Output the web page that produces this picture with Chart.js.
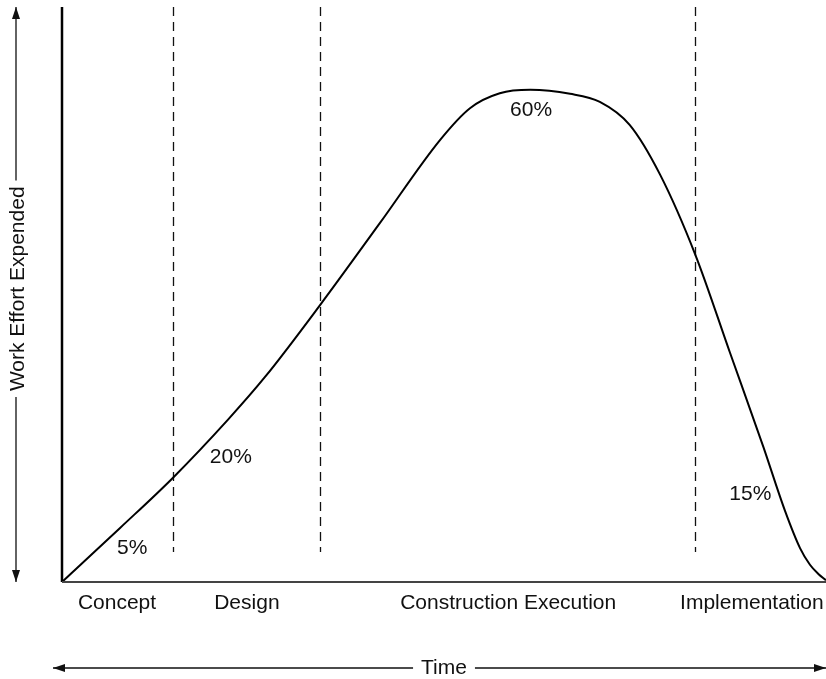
<!DOCTYPE html>
<html>
<head>
<meta charset="utf-8">
<script src="https://cdn.jsdelivr.net/npm/chart.js@4"></script>
<style>
  html, body { margin: 0; padding: 0; background: #fff; }
  canvas { display: block; }
</style>
</head>
<body>
<canvas id="effortChart" width="826" height="679"></canvas>
<script>
// Work effort curve (x = % of time, y = % of plot height)
const timePoints = [0, 7.6, 14.5, 21.7, 26.6, 33.8, 41.6, 49.5, 53.4, 57.3, 61.3, 66.5, 70.4, 74.3, 78.3, 82.9, 87.4, 91.8, 94.6, 96.6, 97.9, 99.0, 100];
const effortValues = [0, 9.4, 18.1, 28.2, 35.7, 48.2, 62.4, 76.9, 82.4, 85.0, 85.6, 84.9, 83.5, 79.5, 70.8, 56.9, 40.0, 23.5, 12.5, 5.9, 3.0, 1.4, 0.3];

// Phase boundaries (dashed lines) and phase names
const phaseBoundaries = [14.5, 33.8, 82.9];
const boundaryRange = [5.2, 100];
const phaseNames = ['Concept', 'Design', 'Construction Execution', 'Implementation'];
const phaseNameX = [7.2, 24.2, 58.4, 90.3];

// Share of effort per phase
const shareLabels = ['5%', '20%', '60%', '15%'];
const shareX = [9.2, 22.1, 61.4, 90.1];
const shareY = [5.9, 21.7, 82.1, 15.3];

const yTitle = 'Work Effort Expended';
const xTitle = 'Time';

const FONT = '21px "Liberation Sans", Arial, Helvetica, sans-serif';

function arrowHead(ctx, x, y, dir) {
    // dir: 'up' | 'down' | 'left' | 'right'
    const len = 12, half = 4;
    ctx.beginPath();
    if (dir === 'up') { ctx.moveTo(x, y); ctx.lineTo(x - half, y + len); ctx.lineTo(x + half, y + len); }
    if (dir === 'down') { ctx.moveTo(x, y); ctx.lineTo(x - half, y - len); ctx.lineTo(x + half, y - len); }
    if (dir === 'left') { ctx.moveTo(x, y); ctx.lineTo(x + len, y - half); ctx.lineTo(x + len, y + half); }
    if (dir === 'right') { ctx.moveTo(x, y); ctx.lineTo(x - len, y - half); ctx.lineTo(x - len, y + half); }
    ctx.closePath();
    ctx.fill();
}

const decorations = {
    id: 'decorations',
    beforeDatasetsDraw(chart) {
        const ctx = chart.ctx;
        const xs = chart.scales.x, ys = chart.scales.y;
        ctx.save();
        // dashed phase boundaries
        ctx.strokeStyle = '#111';
        ctx.lineWidth = 1.3;
        ctx.setLineDash([9, 6]);
        phaseBoundaries.forEach(v => {
            const px = Math.round(xs.getPixelForValue(v)) + 0.5;
            ctx.beginPath();
            ctx.moveTo(px, ys.getPixelForValue(boundaryRange[1]));
            ctx.lineTo(px, ys.getPixelForValue(boundaryRange[0]));
            ctx.stroke();
        });
        ctx.restore();
    },
    afterDraw(chart) {
        const ctx = chart.ctx;
        const area = chart.chartArea;
        const xs = chart.scales.x, ys = chart.scales.y;
        ctx.save();

        // axes
        ctx.setLineDash([]);
        ctx.strokeStyle = '#000';
        ctx.lineWidth = 2.5;
        ctx.beginPath();
        ctx.moveTo(area.left, area.top);
        ctx.lineTo(area.left, area.bottom);
        ctx.stroke();
        ctx.strokeStyle = '#444';
        ctx.lineWidth = 2;
        ctx.beginPath();
        ctx.moveTo(area.left, area.bottom);
        ctx.lineTo(area.right, area.bottom);
        ctx.stroke();

        ctx.font = FONT;
        ctx.fillStyle = '#111';
        ctx.textAlign = 'center';
        ctx.textBaseline = 'middle';

        // phase names under the axis
        phaseNames.forEach((name, i) => {
            ctx.fillText(name, xs.getPixelForValue(phaseNameX[i]), area.bottom + 21);
        });

        // percentage labels
        shareLabels.forEach((lbl, i) => {
            ctx.fillText(lbl, xs.getPixelForValue(shareX[i]), ys.getPixelForValue(shareY[i]));
        });

        // x title with double arrow
        const timeY = area.bottom + 86;
        const timeX = (area.left + area.right) / 2;
        const tw = ctx.measureText(xTitle).width;
        ctx.fillText(xTitle, timeX, timeY);
        ctx.strokeStyle = '#111';
        ctx.lineWidth = 1.3;
        ctx.beginPath();
        ctx.moveTo(area.left - 9, timeY);
        ctx.lineTo(timeX - tw / 2 - 8, timeY);
        ctx.moveTo(timeX + tw / 2 + 8, timeY);
        ctx.lineTo(area.right, timeY);
        ctx.stroke();
        arrowHead(ctx, area.left - 9, timeY, 'left');
        arrowHead(ctx, area.right, timeY, 'right');

        // y title with double arrow
        const titleX = area.left - 46;
        const titleY = ys.getPixelForValue(51);
        const yw = ctx.measureText(yTitle).width;
        ctx.save();
        ctx.translate(titleX + 2, titleY);
        ctx.rotate(-Math.PI / 2);
        ctx.fillText(yTitle, 0, 0);
        ctx.restore();
        ctx.beginPath();
        ctx.moveTo(titleX, area.top);
        ctx.lineTo(titleX, titleY - yw / 2 - 6);
        ctx.moveTo(titleX, titleY + yw / 2 + 6);
        ctx.lineTo(titleX, area.bottom);
        ctx.stroke();
        arrowHead(ctx, titleX, area.top, 'up');
        arrowHead(ctx, titleX, area.bottom, 'down');

        ctx.restore();
    }
};

const effortChart = new Chart(document.getElementById('effortChart'), {
    type: 'line',
    data: {
        datasets: [{
            data: timePoints.map((t, i) => ({ x: t, y: effortValues[i] })),
            borderColor: '#000',
            borderWidth: 2,
            pointRadius: 0,
            fill: false,
            cubicInterpolationMode: 'monotone',
            clip: false
        }]
    },
    options: {
        responsive: false,
        animation: false,
        devicePixelRatio: 1,
        layout: { padding: { left: 62, right: 0, top: 7, bottom: 97 } },
        scales: {
            x: { type: 'linear', min: 0, max: 100, display: false },
            y: { type: 'linear', min: 0, max: 100, display: false }
        },
        plugins: {
            legend: { display: false },
            tooltip: { enabled: false }
        }
    },
    plugins: [decorations]
});
</script>
</body>
</html>
